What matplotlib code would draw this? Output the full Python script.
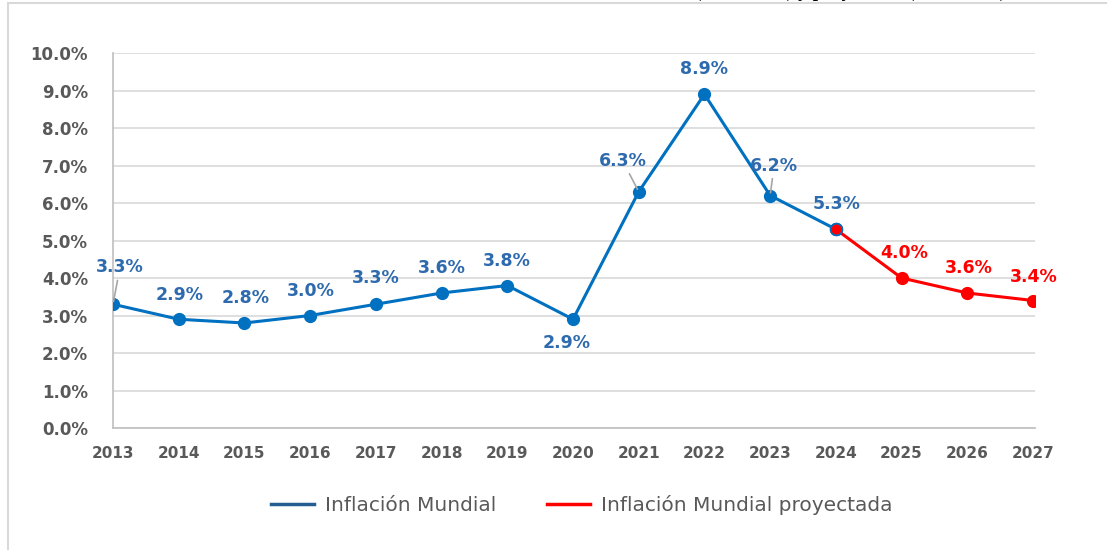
import numpy as np
import matplotlib
import matplotlib.pyplot as plt
from matplotlib.lines import Line2D
from matplotlib.patches import Rectangle

matplotlib.use('Agg')

# data
years = [2013, 2014, 2015, 2016, 2017, 2018, 2019, 2020, 2021, 2022, 2023, 2024]
inflation = [3.3, 2.9, 2.8, 3.0, 3.3, 3.6, 3.8, 2.9, 6.3, 8.9, 6.2, 5.3]
years_proj = [2024, 2025, 2026, 2027]
inflation_proj = [5.3, 4.0, 3.6, 3.4]
y_ticks = [0, 1, 2, 3, 4, 5, 6, 7, 8, 9, 10]
legend_labels = ["Inflación Mundial", "Inflación Mundial proyectada"]

# label offsets in pixels (dx, dy) relative to the points
offsets_hist = [(7, 37), (1, 24), (1, 25), (1, 25), (0, 26), (0, 25), (0, 25),
                (-6, -24), (-16, 31), (0, 25), (4, 30), (1, 25)]
offsets_proj = [(3, 25), (2, 25), (1, 24)]
leader = {2013, 2021, 2023}

blue = '#0070C0'
blue_txt = '#2E6AAE'
red = '#FF0000'
gray = '#595959'

fig = plt.figure(figsize=(11.07, 5.5), dpi=100)
ax = fig.add_axes([113 / 1107, 1 - 428 / 550, 922 / 1107, 375 / 550])

# outer chart frame (only left and top visible in the crop)
fig.patches.append(Rectangle((7.5 / 1107, -0.1), 1.2, 1 - 2.5 / 550 + 0.1,
                             transform=fig.transFigure, fill=False,
                             edgecolor='#D9D9D9', linewidth=1.5))

# title of the page, cut off by the top edge (only descenders show)
fig.text(695 / 1107, 1 + 3.5 / 550, "(2013-2024) y proyección (2025-2027)",
         ha='left', va='baseline', family='Liberation Serif',
         fontweight='bold', fontsize=14, color='black')

ax.plot(years_proj, inflation_proj, color=red, lw=2.2, marker='o', ms=8.5,
        zorder=3)
ax.plot(years, inflation, color=blue, lw=2.2, marker='o', ms=8.5, zorder=4)
# 2024 point: red fill with blue edge
ax.plot([years[-1]], [inflation[-1]], marker='o', ms=8.5, color=red,
        markeredgecolor=blue, markeredgewidth=1.2, zorder=5)

for x, v, off in zip(years, inflation, offsets_hist):
    kw = {}
    if x in leader:
        kw['arrowprops'] = dict(arrowstyle='-', color='#A6A6A6', lw=1.2,
                                shrinkA=1, shrinkB=2)
    ax.annotate(f"{v:.1f}%", (x, v), xytext=off, textcoords='offset pixels',
                ha='center', va='center', fontsize=12.5, fontweight='bold',
                color=blue_txt, zorder=6, **kw)

for x, v, off in zip(years_proj[1:], inflation_proj[1:], offsets_proj):
    ax.annotate(f"{v:.1f}%", (x, v), xytext=off, textcoords='offset pixels',
                ha='center', va='center', fontsize=12.5, fontweight='bold',
                color=red, zorder=6, annotation_clip=False)

ax.set_xlim(2013, 2027 + 2 / 65.7)
ax.set_ylim(0, 10)
ax.set_yticks(y_ticks)
ax.set_yticklabels([f"{t:.1f}%" for t in y_ticks])
ax.set_xticks(list(range(2013, 2028)))
ax.set_xticklabels([str(y) for y in range(2013, 2028)])

ax.grid(axis='y', color='#D9D9D9', lw=1.2)
ax.set_axisbelow(True)
for s in ['top', 'right']:
    ax.spines[s].set_visible(False)
ax.spines['left'].set_color('#BFBFBF')
ax.spines['bottom'].set_color('#BFBFBF')
ax.spines['left'].set_linewidth(1.2)
ax.spines['bottom'].set_linewidth(1.2)
ax.tick_params(axis='both', length=0, colors=gray)
ax.tick_params(axis='y', pad=18, labelsize=12)
ax.tick_params(axis='x', pad=13, labelsize=11)
for lab in ax.get_xticklabels() + ax.get_yticklabels():
    lab.set_fontweight('bold')
    lab.set_color(gray)

handles = [Line2D([], [], color='#255E91', lw=2.5),
           Line2D([], [], color=red, lw=2.5)]
leg = fig.legend(handles, legend_labels, loc='center', ncol=2,
                 bbox_to_anchor=(582 / 1107, 1 - 505 / 550), frameon=False,
                 prop={'family': 'DejaVu Sans', 'size': 14.5},
                 handlelength=2.15, handletextpad=0.55, columnspacing=2.5)
for t in leg.get_texts():
    t.set_color(gray)

fig.savefig('out.png', dpi=100)
